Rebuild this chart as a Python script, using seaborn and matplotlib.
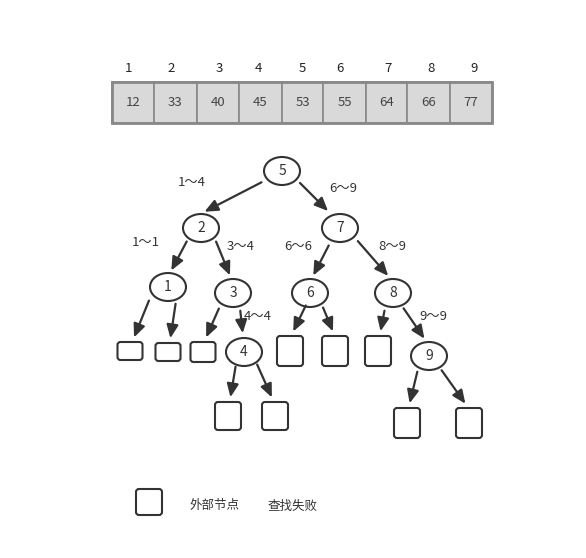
import matplotlib.pyplot as plt
import seaborn as sns
from matplotlib.patches import Ellipse, FancyBboxPatch, Rectangle

sns.set_style("white")
plt.rcParams['font.family'] = ['Noto Sans CJK SC', 'DejaVu Sans']

indices = [1, 2, 3, 4, 5, 6, 7, 8, 9]
values = [12, 33, 40, 45, 53, 55, 64, 66, 77]
cell_edges = [112, 154, 197, 239, 282, 323, 366, 407, 450, 492]
index_x = [128, 171, 219, 258, 302, 340, 388, 431, 474]

node_names = ['5', '2', '7', '1', '3', '6', '8', '4', '9']
node_pos = [(282, 171), (201, 228), (340, 228), (168, 287), (233, 293),
            (310, 293), (393, 293), (244, 352), (429, 356)]
# external nodes: center, width, height
leaves = [((130, 351), 25, 18), ((168, 352), 25, 18), ((203, 352), 25, 20),
          ((228, 416), 26, 28), ((275, 416), 26, 28),
          ((290, 351), 26, 30), ((335, 351), 26, 30), ((378, 351), 26, 30),
          ((407, 423), 26, 30), ((469, 423), 26, 30)]
# edges: (start, end) in pixels
edges = [((264, 181), (202, 213)), ((298, 181), (330, 213)),
         ((188, 239), (170, 273)), ((215, 239), (231, 278)),
         ((330, 243), (312, 278)), ((356, 239), (390, 278)),
         ((150, 298), (133, 340)), ((176, 301), (170, 341)),
         ((220, 306), (205, 340)), ((240, 308), (243, 336)),
         ((307, 303), (292, 334)), ((322, 305), (334, 334)),
         ((385, 308), (380, 334)), ((402, 306), (426, 341)),
         ((236, 364), (230, 400)), ((256, 362), (273, 400)),
         ((418, 369), (409, 406)), ((440, 368), (467, 406))]
range_labels = ['1～4', '6～9', '1～1', '3～4', '6～6', '8～9', '4～4', '9～9']
range_pos = [(192, 183), (343, 189), (146, 242), (241, 247), (298, 247),
             (392, 247), (258, 317), (433, 317)]
legend_text = ['外部节点', '查找失败']

fig = plt.figure(figsize=(5.86, 5.58), dpi=100)
ax = fig.add_axes([0, 0, 1, 1])
ax.set_xlim(0, 586)
ax.set_ylim(558, 0)
ax.axis('off')

ink = '#333333'
for i in range(9):
    x0, x1 = cell_edges[i], cell_edges[i + 1]
    ax.add_patch(Rectangle((x0, 82), x1 - x0, 41, facecolor='#d9d9d9',
                           edgecolor='#888888', lw=1.2))
    ax.text((x0 + x1) / 2, 103, str(values[i]), ha='center', va='center',
            fontsize=9.5, color='#444444')
    ax.text(index_x[i], 68, str(indices[i]), ha='center', va='center',
            fontsize=9.5, color='#222222')
ax.add_patch(Rectangle((112, 82), 380, 41, fill=False, edgecolor='#888888', lw=2))

for (s, e) in edges:
    ax.annotate('', xy=e, xytext=s,
                arrowprops=dict(arrowstyle='-|>,head_length=0.8,head_width=0.35',
                                color=ink, lw=1.6))

for name, (x, y) in zip(node_names, node_pos):
    ax.add_patch(Ellipse((x, y), 36, 28, facecolor='white', edgecolor=ink, lw=1.5))
    ax.text(x, y, name, ha='center', va='center', fontsize=10, color='#333333')

for (x, y), w, h in leaves:
    ax.add_patch(FancyBboxPatch((x - w / 2, y - h / 2), w, h,
                                boxstyle='round,pad=0,rounding_size=3',
                                facecolor='white', edgecolor=ink, lw=1.5))

for t, (x, y) in zip(range_labels, range_pos):
    ax.text(x, y, t, ha='center', va='center', fontsize=9.5, color='#333333')

ax.add_patch(FancyBboxPatch((136, 489), 26, 26, boxstyle='round,pad=0,rounding_size=3',
                            facecolor='white', edgecolor=ink, lw=1.5))
ax.text(190, 506, legend_text[0], ha='left', va='center', fontsize=9, color='#333333')
ax.text(268, 506, legend_text[1], ha='left', va='center', fontsize=9, color='#333333')

fig.savefig('out.png', dpi=100)
